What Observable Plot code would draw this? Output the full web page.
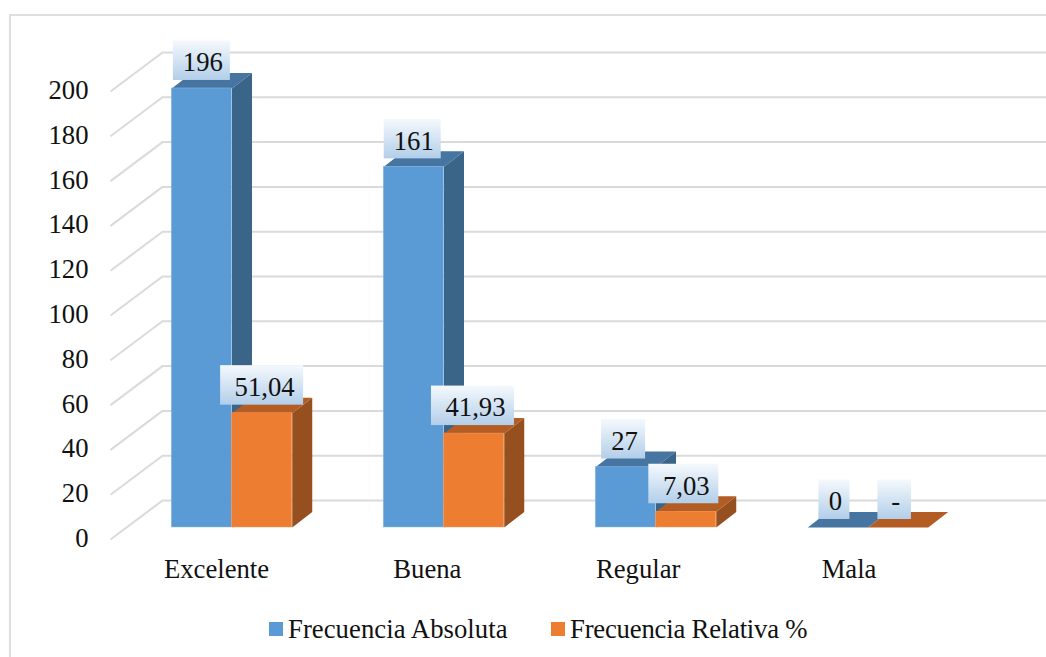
<!DOCTYPE html>
<html lang="es">
<head>
<meta charset="utf-8">
<title>Frecuencia por categoría</title>
<script src="https://cdn.jsdelivr.net/npm/d3@7"></script>
<script src="https://cdn.jsdelivr.net/npm/@observablehq/plot@0.6"></script>
<style>
  html, body { margin: 0; padding: 0; background: #fff; overflow: hidden; }
  body { width: 1046px; height: 657px; position: relative; font-family: "Liberation Serif", serif; color: #111; }
  .frame { position: absolute; left: 9px; top: 14px; right: 0; bottom: 0; border-left: 2px solid #dedede; border-top: 2px solid #dedede; }
  #chart { position: absolute; left: 0; top: 0; }
  .legend { position: absolute; top: 612px; left: 0; width: 1046px; height: 34px; font-size: 26.7px; line-height: 34px; }
  .legend span { position: absolute; white-space: nowrap; }
  .legend i { position: absolute; top: 10px; width: 14px; height: 14px; }
</style>
</head>
<body>
<div class="frame"></div>
<div id="chart"></div>
<div class="legend">
  <i style="left:269px;background:#5b9bd5"></i><span style="left:288px;letter-spacing:0.05px">Frecuencia Absoluta</span>
  <i style="left:551px;background:#ed7d31"></i><span style="left:570px;letter-spacing:-0.2px">Frecuencia Relativa %</span>
</div>
<script>
const categories = ["Excelente", "Buena", "Regular", "Mala"];
const absoluta = [196, 161, 27, 0];
const relativa = [51.04, 41.93, 7.03, 0];
const relativaTexto = ["51,04", "41,93", "7,03", "-"];
const yTicks = d3.range(0, 201, 20);

// Oblique projection: one category step in px, one value unit in px.
const stepPx = 212;
const unitPx = 2.24;
const px = (p) => p / stepPx;
const vu = (p) => p / unitPx;

const wallRun = px(52), wallRise = vu(39);      // depth of the back wall
const floorRise = vu(12);                       // lift of the bars' front plane
const barRun = px(20), barRise = vu(15.5);      // depth of a bar
const barWidth = px(60.25);
const xLeft = px(-15.5), xRight = px(881.5);    // extent of the back wall lines
const labelDrift = px(1.15);                    // text labels sit on a slightly tighter step

const series = [
  {values: absoluta, text: absoluta.map(String), offset: -1, front: "#5b9bd5", edge: "#8fbbe3", top: "#4675a1", side: "#3a6488"},
  {values: relativa, text: relativaTexto, offset: 0, front: "#ed7d31", edge: "#f29a5e", top: "#b35d24", side: "#964f1f"}
];

// Rows for the front faces, the slanted faces and the data labels of one series.
function bars(s) {
  return s.values.map((v, i) => {
    const x1 = i + 0.5 + s.offset * barWidth;
    return {v, i, x1, x2: x1 + barWidth, cx: x1 + barWidth / 2, text: s.text[i]};
  });
}
function faces(s) {
  const rows = [];
  bars(s).forEach((b, i) => {
    const top = b.v + floorRise;
    const add = (kind, fill, pts) => pts.forEach(([x, y]) => rows.push({id: `${i}-${kind}`, fill, x, y}));
    add("side", s.side, [[b.x2, floorRise], [b.x2 + barRun, floorRise + barRise], [b.x2 + barRun, top + barRise], [b.x2, top]]);
    add("top", s.top, [[b.x1, top], [b.x1 + barRun, top + barRise], [b.x2 + barRun, top + barRise], [b.x2, top]]);
  });
  return rows;
}
// Width of a data label's box follows the width of its text.
function boxHalf(text) {
  const glyphs = d3.sum(text, (c) => (/\d/.test(c) ? 13 : c === "," ? 6.5 : 9));
  return px((glyphs + (/^\d+$/.test(text) ? 18 : 24.5)) / 2);
}

const gap = vu(8), boxH = vu(39.5);
const labels = series.flatMap((s) => bars(s).map((b) => ({
  ...b,
  cx: b.cx - b.i * labelDrift,
  y0: b.v + floorRise + gap
})));

const gradient = () => {
  const svg = d3.create("svg:defs");
  const g = svg.append("linearGradient").attr("id", "labelFill").attr("x1", 0).attr("y1", 0).attr("x2", 0).attr("y2", 1);
  g.append("stop").attr("offset", "0%").attr("stop-color", "#f5f9fd");
  g.append("stop").attr("offset", "100%").attr("stop-color", "#b2cee9");
  return svg.node();
};

const marks = [
  gradient,
  // back wall and its slanted left edge
  Plot.ruleY(yTicks, {y: (d) => d + wallRise, x1: wallRun + xLeft, x2: xRight + px(126), stroke: "#dadada", strokeWidth: 2}),
  Plot.link(yTicks, {x1: xLeft, y1: (d) => d, x2: xLeft + wallRun, y2: (d) => d + wallRise, stroke: "#dadada", strokeWidth: 2}),
  Plot.axisY({ticks: yTicks, anchor: "left", tickSize: 0, tickPadding: 22, fontSize: 26.7, fontVariant: "normal", label: null, tickFormat: (d) => d, dy: -1}),
  Plot.axisX({
    ticks: categories.map((_, i) => i + 0.5 - i * labelDrift),
    tickFormat: (d) => categories[Math.round(d - 0.5)],
    tickSize: 0, tickPadding: 20, fontSize: 26.7, fontVariant: "normal", label: null, dx: -15.5
  })
];
for (const s of series) {
  marks.push(
    Plot.line(faces(s), {x: "x", y: "y", z: "id", fill: "fill", stroke: "none", curve: "linear"}),
    Plot.rect(bars(s), {x1: "x1", x2: "x2", y1: floorRise, y2: (d) => d.v + floorRise, fill: s.front, stroke: s.edge, strokeWidth: 0.5})
  );
}
marks.push(
  Plot.rect(labels, {x1: (d) => d.cx - boxHalf(d.text), x2: (d) => d.cx + boxHalf(d.text), y1: "y0", y2: (d) => d.y0 + boxH, fill: "url(#labelFill)"}),
  Plot.text(labels, {x: (d) => d.cx + (d.text.includes(",") ? px(1.5) : 0), y: (d) => d.y0 + boxH / 2, text: "text", fontSize: 26.7, fill: "#111", dx: 1, dy: 2})
);

const plot = Plot.plot({
  width: 1046,
  height: 600,
  marginLeft: 110,
  marginBottom: 61,
  marginTop: 0,
  marginRight: 0,
  x: {domain: [0, 4], range: [125.5, 973.5], axis: null},
  y: {domain: [0, 200], range: [539, 91], axis: null},
  style: {fontFamily: "Liberation Serif, serif", background: "transparent", color: "#111", overflow: "visible"},
  marks
});
document.getElementById("chart").append(plot);
</script>
</body>
</html>
